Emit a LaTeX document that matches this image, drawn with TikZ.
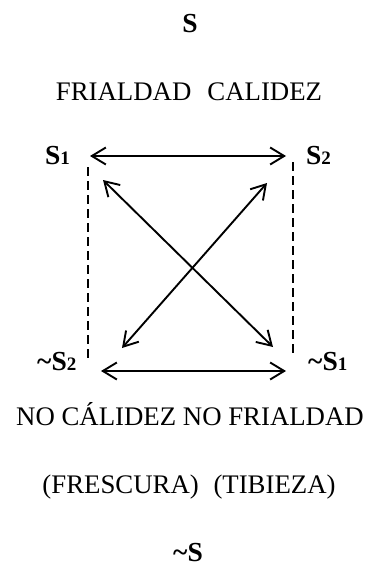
\documentclass[tikz,border=0pt]{standalone}
\usepackage{fontspec}
\setmainfont{Liberation Serif}
\usetikzlibrary{arrows.meta}

\newcommand{\sub}[1]{{\fontsize{19}{19}\selectfont #1}}

\begin{document}
\begin{tikzpicture}[
  x=1pt,y=-1pt,
  txt/.style={inner sep=0pt,anchor=base,font=\fontsize{26.8}{30}\selectfont},
  sym/.style={txt,font=\fontsize{27.5}{30}\selectfont\bfseries},
  link/.style={line width=1.9pt,{Straight Barb[length=14pt,width=17pt,line width=1.9pt]}-{Straight Barb[length=14pt,width=17pt,line width=1.9pt]}},
  guide/.style={line width=1.9pt,dash pattern=on 9pt off 5pt}
]
  \useasboundingbox (0,0) rectangle (370,567);

  % texts
  \node[sym] (top) at (190,33) {S};
  \node[txt] (pair) at (189,101) {FRIALDAD\hspace{0.6em}CALIDEZ};
  \node[sym,anchor=base west] (s1) at (45,164) {S\sub{1}};
  \node[sym,anchor=base west] (s2) at (306,164) {S\sub{2}};
  \node[sym,anchor=base west] (ns2) at (37,370) {\textasciitilde S\sub{2}};
  \node[sym,anchor=base west] (ns1) at (308,370) {\textasciitilde S\sub{1}};
  \node[txt] (neg) at (190,425) {NO CÁLIDEZ NO FRIALDAD};
  \node[txt] (gloss) at (189,493) {(FRESCURA)\hspace{0.55em}(TIBIEZA)};
  \node[sym] (bottom) at (188,561) {\textasciitilde S};

  % arrow ends
  \coordinate (a1) at (90,156);
  \coordinate (a2) at (286,156);
  \coordinate (b1) at (101,371);
  \coordinate (b2) at (286,371);
  \coordinate (c1) at (103,180);
  \coordinate (c2) at (273,347);
  \coordinate (d1) at (267,183);
  \coordinate (d2) at (122,348);
  \coordinate (l1) at (88,167);
  \coordinate (l2) at (88,358);
  \coordinate (r1) at (293,162);
  \coordinate (r2) at (293,353);

  \draw[link] (a1) -- (a2);
  \draw[link] (b1) -- (b2);
  \draw[link] (c1) -- (c2);
  \draw[link] (d1) -- (d2);
  \draw[guide] (l1) -- (l2);
  \draw[guide] (r1) -- (r2);
\end{tikzpicture}
\end{document}
